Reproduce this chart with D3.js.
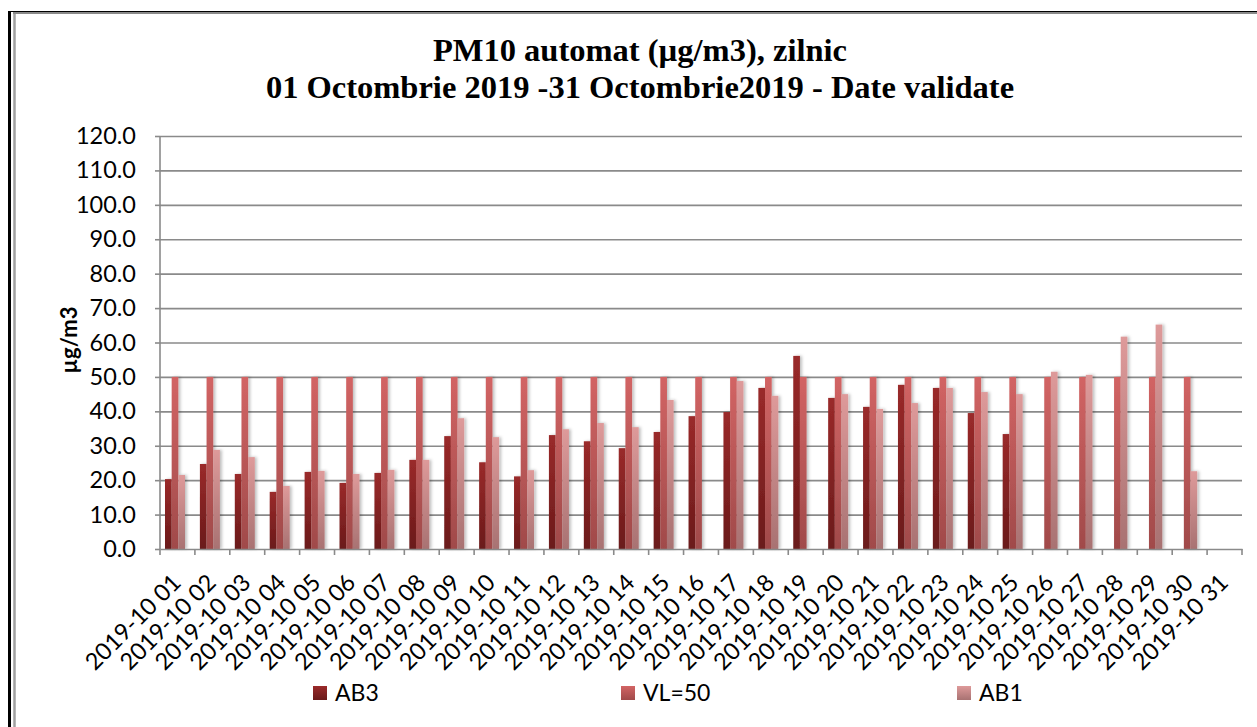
<!DOCTYPE html>
<html lang="ro">
<head>
<meta charset="utf-8">
<title>PM10 automat, zilnic</title>
<script src="https://cdn.jsdelivr.net/npm/d3@7"></script>
<style>
body{margin:0;background:#fff;}
svg{display:block;}
.tick text{font-family:Lato,"Open Sans",sans-serif;}
</style>
</head>
<body>
<div id="chart"></div>
<script>
var width = 1257,
    height = 727;

// data
var days = ["2019-10 01","2019-10 02","2019-10 03","2019-10 04","2019-10 05","2019-10 06","2019-10 07",
  "2019-10 08","2019-10 09","2019-10 10","2019-10 11","2019-10 12","2019-10 13","2019-10 14",
  "2019-10 15","2019-10 16","2019-10 17","2019-10 18","2019-10 19","2019-10 20","2019-10 21",
  "2019-10 22","2019-10 23","2019-10 24","2019-10 25","2019-10 26","2019-10 27","2019-10 28",
  "2019-10 29","2019-10 30","2019-10 31"];
var ab3 = [20.3,24.7,21.8,16.6,22.4,19.2,22.1,25.9,32.8,25.2,21.1,33.1,31.3,29.3,34.0,38.6,39.8,46.8,56.1,43.9,
  41.3,47.7,46.8,39.5,33.4,null,null,null,null,null,null];
var vl = [50,50,50,50,50,50,50,50,50,50,50,50,50,50,50,50,50,50,50,50,50,50,50,50,50,50,50,50,50,50,null];
var ab1 = [21.5,28.8,26.7,18.3,22.7,21.8,23.0,25.9,38.0,32.5,22.9,34.8,36.6,35.4,43.3,null,48.8,44.5,null,45.0,
  40.7,42.4,46.8,45.6,45.0,51.5,50.6,61.7,65.2,22.6,null];
var seriesNames = ["AB3","VL=50","AB1"];
var yTicks = [0,10,20,30,40,50,60,70,80,90,100,110,120];

var series = [ab3, vl, ab1];
var colors = [["#9a2a2a","#6a1a1a"],["#d26464","#a04a4a"],["#de9a9a","#a87272"]];

var margin = {left:160, right:15, top:136, bottom:178};
var plotW = width - margin.left - margin.right,
    plotH = height - margin.top - margin.bottom;

var svg = d3.select("#chart").append("svg")
    .attr("width", width)
    .attr("height", height);

var defs = svg.append("defs");
colors.forEach(function(c,i){
  var g = defs.append("linearGradient").attr("id","grad"+i)
    .attr("x1",0).attr("y1",0).attr("x2",0).attr("y2",1);
  g.append("stop").attr("offset","0%").attr("stop-color",c[0]);
  g.append("stop").attr("offset","100%").attr("stop-color",c[1]);
});
var f = defs.append("filter").attr("id","shadow")
  .attr("x","-50%").attr("y","-10%").attr("width","250%").attr("height","120%");
f.append("feDropShadow").attr("dx",2).attr("dy",0).attr("stdDeviation",1.5)
  .attr("flood-color","#000").attr("flood-opacity",0.25);

// frame
svg.append("line").attr("x1",9.5).attr("y1",11).attr("x2",9.5).attr("y2",height)
  .attr("stroke","#000").attr("stroke-width",3);
svg.append("line").attr("x1",8).attr("y1",11.5).attr("x2",width).attr("y2",11.5)
  .attr("stroke","#000").attr("stroke-width",1);
svg.append("line").attr("x1",14.5).attr("y1",13).attr("x2",14.5).attr("y2",height)
  .attr("stroke","#a0a0a0").attr("stroke-width",2.5);
svg.append("line").attr("x1",13).attr("y1",13).attr("x2",width).attr("y2",13)
  .attr("stroke","#8a8a8a").attr("stroke-width",2);

// title
var title = svg.append("text")
  .attr("text-anchor","middle")
  .attr("font-family","'Liberation Serif','Times New Roman',serif")
  .attr("font-weight","bold")
  .attr("font-size",32.5);
title.append("tspan").attr("x",640).attr("y",61).text("PM10 automat (µg/m3), zilnic");
title.append("tspan").attr("x",640).attr("y",98).text("01 Octombrie 2019 -31 Octombrie2019 - Date validate");

var g = svg.append("g").attr("transform","translate("+margin.left+","+margin.top+")");

var x0 = d3.scaleBand().domain(days).range([0, plotW]).padding(0);
var x1 = d3.scaleBand().domain(d3.range(3)).range([5, 25]);
var y = d3.scaleLinear().domain([0,120]).range([plotH, 0]);

// gridlines
g.append("g").selectAll("line").data(yTicks.slice(1)).enter().append("line")
  .attr("x1",0).attr("x2",plotW)
  .attr("y1",function(d){return y(d)+0.5;}).attr("y2",function(d){return y(d)+0.5;})
  .attr("stroke","#8a8a8a").attr("stroke-width",1.6);

// y axis
var yAxis = g.append("g").call(d3.axisLeft(y).tickValues(yTicks).tickSize(5).tickPadding(19)
  .tickFormat(d3.format(".1f")));
yAxis.selectAll("text").attr("font-size",23.5).attr("fill","#000");
yAxis.selectAll("line,path").attr("stroke","#8a8a8a").attr("stroke-width",1.6);
yAxis.select(".domain").attr("d","M0,"+plotH+"V0");

// bars
var groups = g.append("g").selectAll("g").data(days).enter().append("g")
  .attr("transform",function(d){return "translate("+x0(d)+",0)";});
groups.selectAll("rect")
  .data(function(d,i){
    return series.map(function(s,k){return {k:k, v:s[i]};}).filter(function(e){return e.v!=null;});
  })
  .enter().append("rect")
  .attr("x",function(d){return x1(d.k);})
  .attr("width",x1.bandwidth())
  .attr("y",function(d){return y(d.v);})
  .attr("height",function(d){return plotH - y(d.v);})
  .attr("fill",function(d){return "url(#grad"+d.k+")";})
  .attr("filter","url(#shadow)");

// x axis
var xAxis = g.append("g").attr("transform","translate(0,"+plotH+")")
  .call(d3.axisBottom(x0).tickSize(0).tickPadding(0));
xAxis.select(".domain").attr("stroke","#8a8a8a").attr("stroke-width",1.6);
xAxis.selectAll(".tick text")
  .attr("font-size",23.5).attr("fill","#000")
  .attr("text-anchor","end")
  .attr("dy",0)
  .attr("transform","translate(5,35) rotate(-45)");
// category separator ticks
g.append("g").selectAll("line").data(days.concat([null])).enter().append("line")
  .attr("x1",function(d,i){return i*x0.step();}).attr("x2",function(d,i){return i*x0.step();})
  .attr("y1",plotH).attr("y2",plotH+6)
  .attr("stroke","#8a8a8a").attr("stroke-width",1.6);

// y axis title
svg.append("text")
  .attr("transform","translate(77,340) rotate(-90)")
  .attr("text-anchor","middle")
  .attr("font-family","Lato,'Open Sans',sans-serif")
  .attr("font-weight","bold")
  .attr("font-size",22)
  .text("µg/m3");

// legend
var legX = [313, 621, 957];
var leg = svg.append("g").selectAll("g").data(seriesNames).enter().append("g")
  .attr("transform",function(d,i){return "translate("+legX[i]+",686)";});
leg.append("rect").attr("width",14).attr("height",14)
  .attr("fill",function(d,i){return "url(#grad"+i+")";});
leg.append("text").attr("x",22).attr("y",15)
  .attr("font-family","Lato,'Open Sans',sans-serif")
  .attr("font-size",23)
  .text(function(d){return d;});
</script>
</body>
</html>
